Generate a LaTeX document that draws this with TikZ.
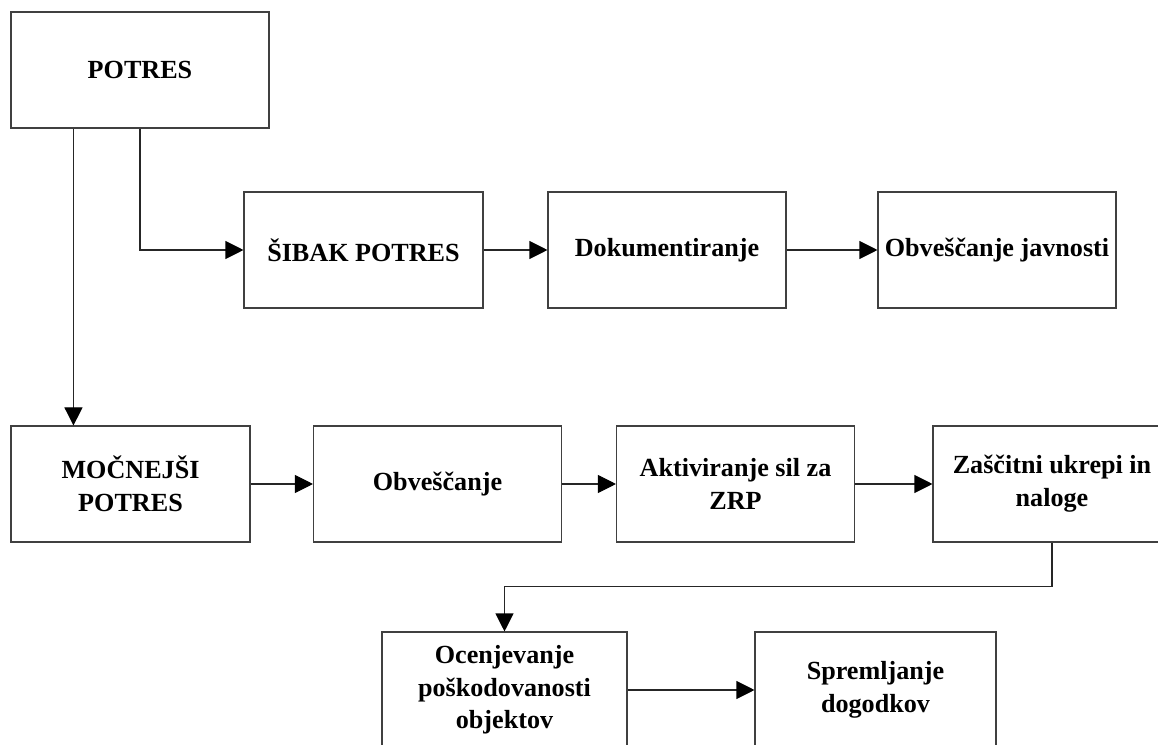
\documentclass[tikz,border=0pt]{standalone}
\usepackage{fontspec}
\setmainfont{Liberation Serif}
\usetikzlibrary{arrows.meta,calc}
\begin{document}
\begin{tikzpicture}[x=0.75pt,y=-0.75pt,
  box/.style={draw=black!75,line width=0.8pt,fill=white,inner sep=0pt,align=center,
    minimum height=116*0.75pt,font=\bfseries\fontsize{19.6pt}{24.5pt}\selectfont},
  arr/.style={draw=black!85,line width=0.8pt,-{Triangle[length=13.5pt,width=13.5pt,fill=black,color=black]}}]
\clip (0,0) rectangle (1158,745);
\fill[white] (0,0) rectangle (1158,745);
% top row
\node[box,minimum width=258*0.75pt] (potres) at (140,70) {POTRES};
\node[box,minimum width=239*0.75pt] (sibak) at (363.5,250) {ŠIBAK POTRES};
\node[box,minimum width=238*0.75pt] (dok) at (667,250) {Dokumentiranje};
\node[box,minimum width=238*0.75pt] (obvj) at (997,250) {Obveščanje javnosti};
% middle row
\node[box,minimum width=239*0.75pt] (mocn) at (130.5,484) {MOČNEJŠI\\POTRES};
\node[box,minimum width=248*0.75pt] (obv) at (437.5,484) {Obveščanje};
\node[box,minimum width=238*0.75pt] (akt) at (735.5,484) {Aktiviranje sil za\\ZRP};
\node[box,minimum width=238*0.75pt] (zas) at (1052,484) {Zaščitni ukrepi in\\naloge};
% bottom row
\node[box,minimum width=245*0.75pt] (oc) at (504.5,690) {Ocenjevanje\\poškodovanosti\\objektov};
\node[box,minimum width=241*0.75pt] (spr) at (875.5,690) {Spremljanje\\dogodkov};
% connectors
\coordinate (pd) at ($(potres.south west)+(63,0)$);
\draw[arr] (pd) -- (pd |- mocn.north);
\draw[arr] (potres.south) |- (sibak.west);
\draw[arr] (sibak.east) -- (dok.west);
\draw[arr] (dok.east) -- (obvj.west);
\draw[arr] (mocn.east) -- (obv.west);
\draw[arr] (obv.east) -- (akt.west);
\draw[arr] (akt.east) -- (zas.west);
\draw[arr] (zas.south) -- ++(0,44) -| (oc.north);
\draw[arr] (oc.east) -- (spr.west);
\end{tikzpicture}
\end{document}
